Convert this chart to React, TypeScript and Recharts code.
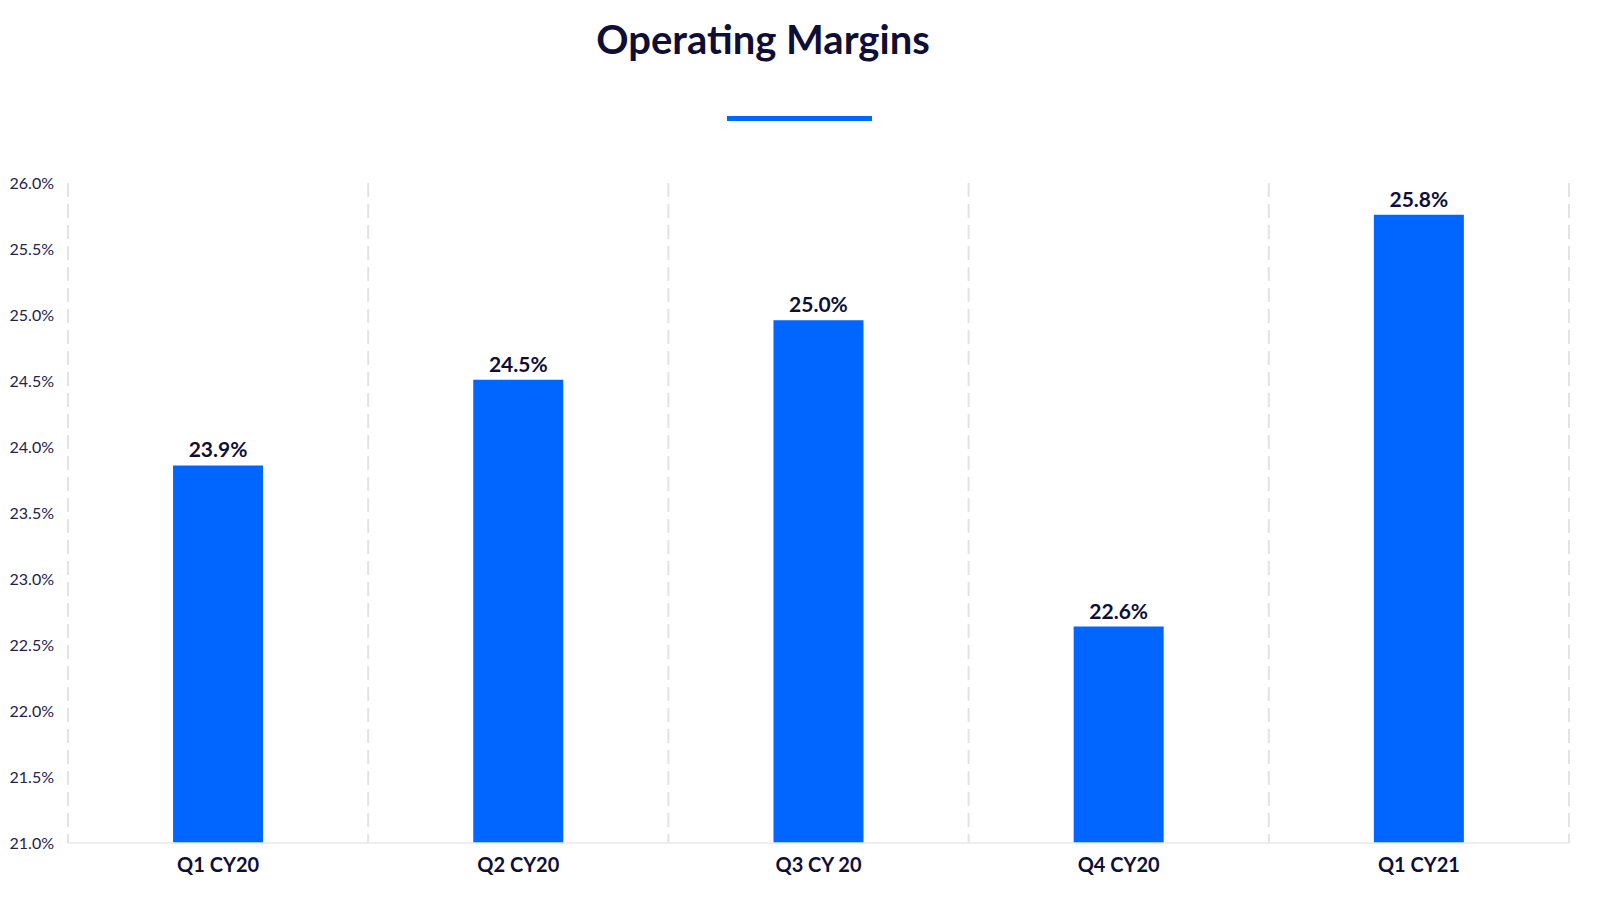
import React from "react";
import { BarChart, Bar, XAxis, YAxis, CartesianGrid, LabelList } from "recharts";

const categories = ["Q1 CY20", "Q2 CY20", "Q3 CY 20", "Q4 CY20", "Q1 CY21"];
const margins = [23.86, 24.51, 24.96, 22.64, 25.76];
const yTicks = [21.0, 21.5, 22.0, 22.5, 23.0, 23.5, 24.0, 24.5, 25.0, 25.5, 26.0];
const title = "Operating Margins";

const data = categories.map((c, i) => ({ name: c, value: margins[i] }));

const FONT = "Lato, 'Open Sans', sans-serif";
const NAVY = "#0f0f35";
const BLUE = "#0066ff";

export default function App() {
  return (
    <div style={{ position: "relative", width: 1584, height: 884, fontFamily: FONT }}>
      <div
        style={{
          position: "absolute",
          left: 0,
          width: 1510,
          top: 11,
          textAlign: "center",
          fontSize: 40,
          lineHeight: "40px",
          fontWeight: 700,
          color: NAVY,
        }}
      >
        {title}
      </div>
      <div
        style={{
          position: "absolute",
          left: 719,
          top: 108,
          width: 145,
          height: 5,
          background: BLUE,
        }}
      />
      <BarChart
        width={1584}
        height={884}
        data={data}
        margin={{ top: 175, right: 23, bottom: 9, left: 0 }}
        barCategoryGap="35%"
      >
        <CartesianGrid
          horizontal={false}
          stroke="#e3e3e3"
          strokeWidth={2}
          strokeDasharray="14 7"
          verticalCoordinatesGenerator={({ offset }: any) =>
            Array.from({ length: categories.length + 1 }, (_, i) => offset.left + (i * offset.width) / categories.length)
          }
        />
        <XAxis
          dataKey="name"
          height={40}
          axisLine={{ stroke: "#e8e8e8", strokeWidth: 1.5 }}
          tickLine={false}
          tickSize={0}
          tickMargin={15}
          tick={{ fill: NAVY, fontSize: 20, fontWeight: 700, fontFamily: FONT }}
        />
        <YAxis
          width={60}
          domain={[21, 26]}
          ticks={yTicks}
          interval={0}
          axisLine={false}
          tickLine={false}
          tickSize={0}
          tickMargin={14}
          tickFormatter={(v: number) => `${v.toFixed(1)}%`}
          tick={{ fill: "#23234a", fontSize: 16, fontFamily: FONT }}
        />
        <Bar dataKey="value" fill={BLUE} isAnimationActive={false}>
          <LabelList
            dataKey="value"
            position="top"
            offset={8}
            formatter={(v: any) => `${Number(v).toFixed(1)}%`}
            style={{ fill: NAVY, fontSize: 21, fontWeight: 700, fontFamily: FONT }}
          />
        </Bar>
      </BarChart>
    </div>
  );
}
